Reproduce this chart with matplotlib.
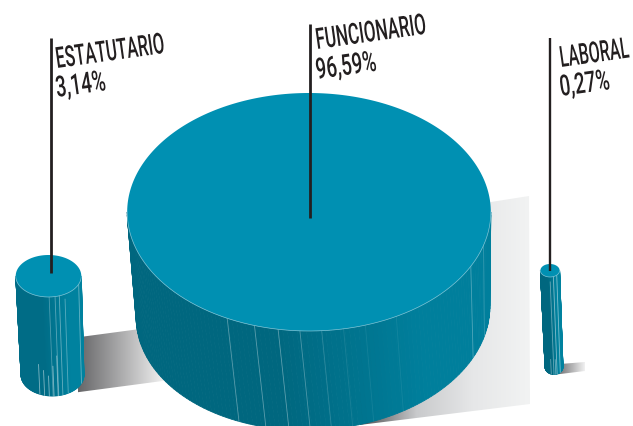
import numpy as np
import matplotlib
matplotlib.use("Agg")
import matplotlib.pyplot as plt
import matplotlib.patheffects as pe
from matplotlib.colors import LinearSegmentedColormap, to_rgb
from matplotlib.patches import Polygon
from matplotlib.transforms import Affine2D

categorias = ["ESTATUTARIO", "FUNCIONARIO", "LABORAL"]
valores = [3.14, 96.59, 0.27]
etiquetas = ["3,14%", "96,59%", "0,27%"]

TOPE = "#0090B2"
ESCALA_RADIO = 18.5  # el area de cada cilindro es proporcional al valor


class Alto(pe.AbstractPathEffect):
    # la fuente original es muy condensada, se estira el texto en su eje vertical
    def __init__(self, ax, x, y, ang, fy):
        super().__init__()
        self.ax, self.x, self.y, self.ang, self.fy = ax, x, y, ang, fy

    def draw_path(self, renderer, gc, tpath, affine, rgbFace=None):
        px, py = self.ax.transData.transform((self.x, self.y))
        t = affine + (Affine2D().translate(-px, -py).rotate_deg(-self.ang)
                      .scale(1, self.fy).rotate_deg(self.ang).translate(px, py))
        renderer.draw_path(gc, tpath, t, rgbFace)


def elipse(cx, cy, rx, ry, t, giro=0):
    x, y = rx * np.cos(t), ry * np.sin(t)
    g = np.deg2rad(giro)
    return cx + x * np.cos(g) - y * np.sin(g), cy + x * np.sin(g) + y * np.cos(g)


def mezcla(c1, c2, f):
    return tuple((1 - f) * a + f * b for a, b in zip(to_rgb(c1), to_rgb(c2)))


def cilindro(ax, arriba, abajo, ry_top, ry_base, rx_base, c_izq, c_der, lineas, giro=0, z=3):
    cx, cy, rx = arriba
    bx, by = abajo
    t = np.linspace(np.pi, 0, 120)
    x1, y1 = elipse(cx, cy, rx, ry_top, t)
    x2, y2 = elipse(bx, by, rx_base, ry_base, t, giro)
    for i in range(len(t) - 1):
        # sombreado de izquierda a derecha, con meseta oscura al principio
        f = min(max(((x1[i] - x1[0]) / (x1[-1] - x1[0]) - 0.4) / 0.4, 0), 1)
        col = mezcla(c_izq, c_der, f)
        ax.add_patch(Polygon([(x1[i], y1[i]), (x1[i + 1], y1[i + 1]), (x2[i + 1], y2[i + 1]), (x2[i], y2[i])],
                             fc=col, ec=col, lw=0.6, zorder=z))
    for u, ini, alfa in lineas:
        tt = np.arccos(np.clip(u, -1, 1))
        xa, ya = elipse(cx, cy, rx, ry_top, tt)
        xb, yb = elipse(bx, by, rx_base, ry_base, tt, giro)
        xi, yi = xa + (xb - xa) * ini, ya + (yb - ya) * ini
        ax.plot([xi, xb], [yi, yb], color="white", lw=0.6, alpha=alfa, zorder=z + 0.1)
    tt = np.linspace(0, 2 * np.pi, 300)
    xt, yt = elipse(cx, cy, rx, ry_top, tt)
    ax.fill(xt, yt, color=TOPE, lw=0, zorder=z + 0.2)
    ft = np.linspace(0, np.pi, 150)
    xf, yf = elipse(cx, cy, rx, ry_top, ft)
    ax.plot(xf, yf, color="#7FC4D6", lw=0.5, zorder=z + 0.3)


def sombra(ax, puntos, extent, colores):
    cmap = LinearSegmentedColormap.from_list("s", colores)
    im = ax.imshow(np.linspace(0, 1, 256).reshape(1, -1), cmap=cmap, extent=extent, aspect="auto", zorder=1)
    p = Polygon(puntos, transform=ax.transData, fc="none", ec="none")
    ax.add_patch(p)
    im.set_clip_path(p)


fig = plt.figure(figsize=(6.33, 4.27), dpi=100)
ax = fig.add_axes([0, 0, 1, 1])

# sombras en el suelo
sombra(ax, [(80, 338), (140, 330), (170, 381), (72, 394)], (78, 165, 427, 0), ["#666668", "#F2F2F2"])
sombra(ax, [(491, 203), (529, 197), (530, 405), (270, 437), (300, 300)], (360, 530, 427, 0),
       ["#4E4E50", "#C9CACC", "#E6E7E8", "#F2F3F3"])
sombra(ax, [(560, 365), (585, 363), (585, 372), (552, 376)], (558, 585, 427, 0), ["#6E6E70", "#F2F2F2"])

radios = [ESCALA_RADIO * np.sqrt(v) for v in valores]

cilindro(ax, (48.5, 277, radios[0]), (52.5, 376), 21, 21, 31.5, "#006C86", "#00829F",
         [(0.02, 0.0, 0.3), (0.2, 0.0, 0.35), (0.33, 0.0, 0.4), (0.5, 0.05, 0.35), (0.92, 0.0, 0.4),
          (-0.4, 0.7, 0.5), (-0.25, 0.75, 0.5), (-0.1, 0.8, 0.5), (0.05, 0.7, 0.5), (0.18, 0.6, 0.45)], z=6)
cilindro(ax, (309, 213, radios[1]), (313, 313), 119, 118, 177, "#00677F", "#007F9C",
         [(-0.45, 0, 0.35), (-0.3, 0, 0.35), (-0.17, 0, 0.35), (-0.05, 0, 0.3), (0.07, 0, 0.18), (0.19, 0, 0.1),
          (0.31, 0, 0.08), (0.48, 0, 0.08), (0.89, 0, 0.3), (0.96, 0, 0.2)], giro=-3, z=4)
cilindro(ax, (550, 271.5, radios[2]), (554, 368), 6.5, 7.5, 9, "#00677F", "#00829F",
         [(0.0, 0.05, 0.4), (0.35, 0.0, 0.5), (0.7, 0.0, 0.5), (-0.3, 0.85, 0.4), (0.2, 0.85, 0.4)], z=8)

# postes de las etiquetas
postes_x = [50.5, 310, 550]
postes_y0 = [39, 25, 39]
postes_y1 = [274, 219, 272]
for x, y0, y1, g in zip(postes_x, postes_y0, postes_y1, [2.0, 2.0, 1.7]):
    ax.plot([x, x], [y0, y1], color="#231F20", lw=g, solid_capstyle="butt", zorder=12)

# textos
ANG = 8
texto_x = [57, 317, 561]
base_cat = [69, 50, 68]
base_val = [98, 80, 97]
tam_cat = [12, 12.3, 11.5]
for i in range(3):
    for s, y, tam in ((categorias[i], base_cat[i], tam_cat[i]), (etiquetas[i], base_val[i], 13.6)):
        ax.text(texto_x[i], y, s, family="Roboto", fontsize=tam, weight="medium", color="#231F20",
                rotation=ANG, rotation_mode="anchor", ha="left", va="baseline", zorder=13,
                path_effects=[Alto(ax, texto_x[i], y, ANG, 21 / tam)])

ax.set_xlim(0, 633)
ax.set_ylim(427, 0)
ax.axis("off")
fig.savefig("out.png", dpi=100)
